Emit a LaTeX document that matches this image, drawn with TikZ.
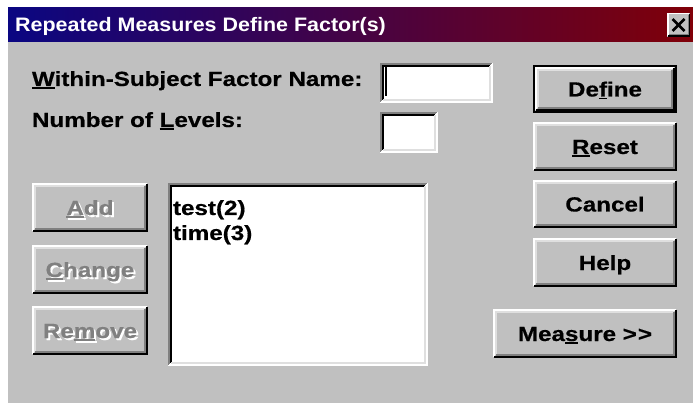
\documentclass[tikz,border=0pt]{standalone}
\usepackage{fontspec}
\newfontfamily\uifont{Liberation Sans}[FakeStretch=1.18,BoldFeatures={FakeBold=0.5}]
\newfontfamily\ttlfont{Liberation Sans}[FakeStretch=1.1]
\definecolor{winbg}{RGB}{192,192,192}
\definecolor{winlt}{RGB}{223,223,223}
\definecolor{windk}{RGB}{128,128,128}
\definecolor{navyt}{RGB}{10,6,130}
\definecolor{maroont}{RGB}{128,0,8}
\newcommand\kbdul[1]{\setbox0=\hbox{#1}\rlap{\rule[-3pt]{\wd0}{1.7pt}}#1}
\newcommand\distxt[1]{\rlap{\kern2pt\raisebox{-2pt}{\color{white}#1}}#1}
% raised 3D bevel: #1 node name, #2 inset
\newcommand\raisedbev[2]{%
  \draw[white,line width=2pt] ([shift={({#2+1pt},{#2+1pt})}]#1.south west) |- ([shift={({-#2-1pt},{-#2-1pt})}]#1.north east);
  \draw[black,line width=2pt] ([shift={({#2+1pt},{#2+1pt})}]#1.south west) -| ([shift={({-#2-1pt},{-#2-1pt})}]#1.north east);
  \draw[winlt,line width=2pt] ([shift={({#2+3pt},{#2+3pt})}]#1.south west) |- ([shift={({-#2-3pt},{-#2-3pt})}]#1.north east);
  \draw[windk,line width=2pt] ([shift={({#2+3pt},{#2+3pt})}]#1.south west) -| ([shift={({-#2-3pt},{-#2-3pt})}]#1.north east);
}
\newcommand\sunkbev[1]{%
  \draw[windk,line width=2pt] ([shift={(1pt,1pt)}]#1.south west) |- ([shift={(-1pt,-1pt)}]#1.north east);
  \draw[white,line width=2pt] ([shift={(1pt,1pt)}]#1.south west) -| ([shift={(-1pt,-1pt)}]#1.north east);
  \draw[black,line width=2pt] ([shift={(3pt,3pt)}]#1.south west) |- ([shift={(-3pt,-3pt)}]#1.north east);
  \draw[winlt,line width=2pt] ([shift={(3pt,3pt)}]#1.south west) -| ([shift={(-3pt,-3pt)}]#1.north east);
}
\begin{document}
\begin{tikzpicture}[x=1pt,y=-1pt,
  btn/.style={rectangle,fill=winbg,inner sep=0,outer sep=0,anchor=north west},
  field/.style={rectangle,fill=white,inner sep=0,outer sep=0,anchor=north west},
  uitext/.style={inner sep=0,outer sep=0,font=\uifont\bfseries\fontsize{20.5pt}{24pt}\selectfont},
  lbl/.style={uitext,anchor=base west,text=black},
  btntext/.style={uitext,anchor=center,text height=15pt,text depth=0pt,text=black},
  distext/.style={btntext,text=windk}]
\useasboundingbox (0,0) rectangle (693,403);
\fill[white] (0,0) rectangle (693,403);
\node[btn,minimum width=685pt,minimum height=395pt] (dlg) at (8,8) {};
% title bar
\node[anchor=north west,inner sep=0,outer sep=0,minimum width=685pt,minimum height=34pt,left color=navyt,right color=maroont,draw=none] (title) at (8,8) {};
\node[inner sep=0,anchor=base west,text=white,font=\ttlfont\bfseries\fontsize{19.5pt}{23pt}\selectfont] (ttl) at (15,32) {Repeated Measures Define Factor(s)};
\node[btn,minimum width=23pt,minimum height=24pt] (close) at (667,13) {};
\draw[white,line width=1.5pt] ([shift={(0.75pt,0.75pt)}]close.south west) |- ([shift={(-0.75pt,-0.75pt)}]close.north east);
\draw[black,line width=1.5pt] ([shift={(0.75pt,0.75pt)}]close.south west) -| ([shift={(-0.75pt,-0.75pt)}]close.north east);
\draw[windk,line width=1pt] ([shift={(2pt,2pt)}]close.south west) -| ([shift={(-2pt,-2pt)}]close.north east);
\draw[black,line width=2.6pt] ([shift={(-6pt,6pt)}]close.center) -- ([shift={(6pt,-6pt)}]close.center);
\draw[black,line width=2.6pt] ([shift={(-6pt,-6pt)}]close.center) -- ([shift={(6pt,6pt)}]close.center);
% labels
\node[lbl] (lname) at (32,86) {\kbdul{W}ithin-Subject Factor Name:};
\node[lbl] (llev) at (32,127) {Number of \kbdul{L}evels:};
% fields
\node[field,minimum width=113pt,minimum height=40pt] (f1) at (380,63) {};
\sunkbev{f1}
\draw[black,line width=2pt] ([shift={(6pt,-4pt)}]f1.north west) -- ([shift={(6pt,7pt)}]f1.south west);
\node[field,minimum width=58pt,minimum height=41pt] (f2) at (380,112) {};
\sunkbev{f2}
\node[field,minimum width=260pt,minimum height=183pt] (list) at (168,183) {};
\sunkbev{list}
\node[lbl] (it1) at (173,215) {test(2)};
\node[lbl] (it2) at (173,240) {time(3)};
% right buttons
\node[btn,minimum width=144pt,minimum height=48pt] (define) at (533,65) {};
\draw[black,line width=2pt] ([shift={(1pt,-1pt)}]define.north west) rectangle ([shift={(-1pt,1pt)}]define.south east);
\raisedbev{define}{2pt}
\node[btntext] (tdefine) at (define.center) {De\kbdul{f}ine};
\node[btn,minimum width=144pt,minimum height=49pt] (reset) at (533,122) {};
\raisedbev{reset}{0pt}
\node[btntext] (treset) at (reset.center) {\kbdul{R}eset};
\node[btn,minimum width=144pt,minimum height=48pt] (cancel) at (533,180) {};
\raisedbev{cancel}{0pt}
\node[btntext] (tcancel) at (cancel.center) {Cancel};
\node[btn,minimum width=144pt,minimum height=49pt] (help) at (533,238) {};
\raisedbev{help}{0pt}
\node[btntext] (thelp) at (help.center) {Help};
\node[btn,minimum width=184pt,minimum height=49pt] (measure) at (493,309) {};
\raisedbev{measure}{0pt}
\node[btntext] (tmeasure) at (measure.center) {Mea\kbdul{s}ure >\kern1pt>};
% left disabled buttons
\node[btn,minimum width=116pt,minimum height=49pt] (add) at (32,183) {};
\raisedbev{add}{0pt}
\node[distext] (tadd) at (add.center) {\distxt{\kbdul{A}dd}};
\node[btn,minimum width=116pt,minimum height=49pt] (change) at (32,245) {};
\raisedbev{change}{0pt}
\node[distext] (tchange) at (change.center) {\distxt{\kbdul{C}hange}};
\node[btn,minimum width=116pt,minimum height=49pt] (remove) at (32,306) {};
\raisedbev{remove}{0pt}
\node[distext] (tremove) at (remove.center) {\distxt{Re\kbdul{m}ove}};
\end{tikzpicture}
\end{document}
